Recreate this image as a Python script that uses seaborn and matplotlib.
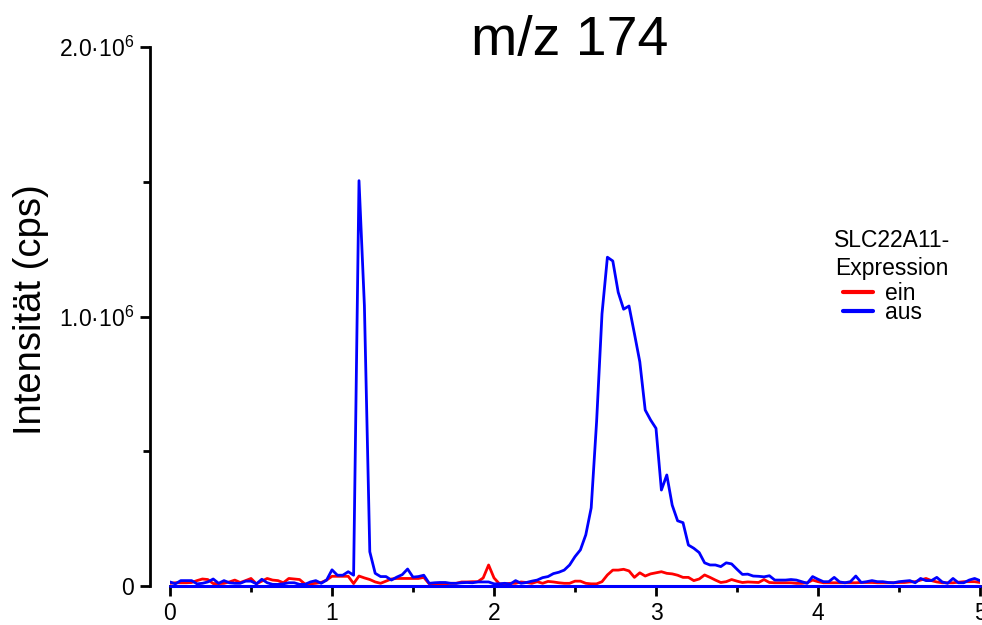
import numpy as np
import pandas as pd
import matplotlib
matplotlib.use("Agg")
import matplotlib.pyplot as plt
import seaborn as sns
from matplotlib.ticker import MultipleLocator

# Retention time grid (min), one scan every 2 s
time_min = np.linspace(0.0, 5.0, 151)

# Ion intensities for m/z 174, in units of 1e4 cps
ein_1e4 = [
    1.0, 1.2, 1.2, 1.2, 1.3, 2.0, 2.6, 2.4, 0.9, 0.9,
    1.0, 1.5, 2.2, 1.3, 2.0, 2.8, 0.8, 1.8, 2.8, 2.2,
    2.0, 1.2, 2.8, 2.6, 2.4, 0.7, 0.8, 1.0, 1.3, 2.2,
    3.6, 3.6, 3.6, 3.6, 0.9, 3.7, 3.0, 2.4, 1.5, 1.0,
    1.8, 2.6, 2.8, 2.8, 2.8, 2.8, 2.8, 3.2, 0.8, 0.8,
    0.8, 0.8, 1.0, 1.0, 1.5, 1.5, 1.6, 1.6, 3.0, 7.8,
    3.0, 0.8, 0.8, 1.0, 1.0, 1.5, 1.3, 1.0, 1.6, 1.0,
    1.7, 1.5, 1.2, 1.0, 1.0, 1.8, 1.8, 1.0, 0.8, 0.8,
    1.6, 4.1, 5.9, 5.9, 6.2, 5.6, 3.2, 4.9, 3.7, 4.5,
    4.9, 5.3, 4.7, 4.5, 4.0, 3.2, 3.2, 2.0, 2.6, 4.1,
    3.2, 2.2, 1.3, 1.6, 2.4, 1.8, 1.3, 1.5, 1.4, 1.3,
    2.4, 1.3, 1.2, 1.2, 1.2, 1.2, 1.0, 1.0, 1.2, 2.2,
    1.6, 1.2, 1.2, 1.2, 1.2, 1.2, 1.2, 1.2, 1.3, 1.3,
    1.3, 1.2, 1.2, 1.2, 1.2, 1.3, 1.3, 1.5, 1.6, 2.2,
    2.8, 2.0, 1.5, 1.2, 1.2, 1.2, 1.4, 1.6, 1.6, 1.6, 1.3,
]
aus_1e4 = [
    1.5, 0.8, 2.0, 2.0, 2.0, 0.8, 1.0, 1.5, 2.6, 1.0,
    2.0, 1.2, 1.0, 1.0, 1.8, 1.8, 0.8, 2.5, 1.2, 0.6,
    0.6, 0.8, 1.2, 1.2, 0.6, 0.6, 1.5, 2.0, 1.0, 2.2,
    6.0, 4.0, 4.0, 5.3, 4.0, 150.4, 104.0, 12.7, 4.7, 3.5,
    3.5, 2.2, 3.3, 4.2, 6.3, 3.3, 3.5, 4.0, 1.0, 1.2,
    1.3, 1.3, 1.0, 1.0, 1.2, 1.3, 1.2, 1.5, 1.5, 1.5,
    0.8, 0.8, 1.0, 0.7, 2.0, 1.0, 1.3, 1.8, 2.2, 3.1,
    3.5, 4.6, 5.1, 5.9, 7.8, 10.9, 13.4, 19.0, 29.0, 61.0,
    101.0, 122.0, 120.6, 109.0, 102.7, 103.9, 93.7, 83.2, 65.3, 61.6,
    58.5, 35.6, 41.2, 30.0, 24.2, 23.5, 15.2, 14.0, 12.4, 8.6,
    7.8, 7.8, 7.2, 8.6, 8.2, 6.2, 4.3, 4.4, 3.7, 3.6,
    3.4, 3.8, 2.2, 2.2, 2.2, 2.4, 2.2, 1.6, 1.0, 3.5,
    2.5, 1.6, 1.6, 3.2, 1.5, 1.2, 1.6, 3.7, 1.3, 1.6,
    2.0, 1.6, 1.6, 1.3, 1.2, 1.6, 1.8, 2.0, 1.2, 2.8,
    2.0, 2.0, 3.2, 1.5, 1.0, 2.8, 1.2, 1.2, 2.2, 2.8, 2.0,
]

series_labels = ["ein", "aus"]
series_colors = ["red", "blue"]
x_ticks = [0, 1, 2, 3, 4, 5]
y_ticks = [0.0, 1.0e6, 2.0e6]
y_tick_labels = ["0", "1.0·10$^{6}$", "2.0·10$^{6}$"]
title_text = "m/z 174"
y_label = "Intensität (cps)"
legend_title_lines = ["SLC22A11-", "Expression"]

sns.set_style("ticks")
plt.rcParams["font.family"] = ["Liberation Sans", "DejaVu Sans"]
plt.rcParams["mathtext.fontset"] = "custom"
plt.rcParams["mathtext.rm"] = "Liberation Sans"
plt.rcParams["mathtext.default"] = "regular"
plt.rcParams["text.color"] = "black"
plt.rcParams["axes.labelcolor"] = "black"
plt.rcParams["axes.titlecolor"] = "black"
plt.rcParams["xtick.color"] = "black"
plt.rcParams["ytick.color"] = "black"

n = len(time_min)
df = pd.DataFrame({
    "Zeit": np.concatenate([time_min, time_min]),
    "Intensität": np.concatenate([np.asarray(ein_1e4), np.asarray(aus_1e4)]) * 1e4,
    "Expression": [series_labels[0]] * n + [series_labels[1]] * n,
})

W, H = 982, 625
fig = plt.figure(figsize=(W / 100, H / 100), dpi=100)
ax = fig.add_axes([170 / W, (H - 586) / H, 810 / W, 539 / H])

sns.lineplot(
    data=df, x="Zeit", y="Intensität", hue="Expression",
    hue_order=series_labels, palette=dict(zip(series_labels, series_colors)),
    estimator=None, linewidth=2.0, ax=ax,
)

# zero line along the time axis
ax.axhline(0, color="blue", lw=2.2, clip_on=False, zorder=3)

ax.set_xlim(0, 5)
ax.set_ylim(0, 2.0e6)
ax.set_xticks(x_ticks)
ax.xaxis.set_minor_locator(MultipleLocator(0.5))
ax.set_yticks(y_ticks, labels=y_tick_labels)
ax.yaxis.set_minor_locator(MultipleLocator(0.5e6))

sns.despine(ax=ax)
# y axis sits 20 px left of the time origin
ax.spines["left"].set_position(("outward", 14.4))
for side in ("left", "bottom"):
    ax.spines[side].set_linewidth(2.0)
    ax.spines[side].set_color("black")

ax.tick_params(which="major", length=7.5, width=2.0, labelsize=16.5, pad=4,
               color="black", labelcolor="black")
ax.tick_params(axis="x", which="minor", length=4.5, width=2.0, color="black")
ax.tick_params(axis="y", which="minor", length=5.0, width=2.0, color="black")

ax.set_xlabel("")
ax.set_ylabel(y_label, fontsize=27.5, color="black")
ax.yaxis.set_label_coords(-0.149, 0.512)

ax.set_title(title_text, fontsize=40, x=0.494, y=0.985, pad=0, color="black")

# legend heading and entries
ax.text(0.891, 0.629, legend_title_lines[0], ha="center", va="baseline",
        fontsize=16.5, color="black", transform=ax.transAxes)
ax.text(0.891, 0.577, legend_title_lines[1], ha="center", va="baseline",
        fontsize=16.5, color="black", transform=ax.transAxes)
handles, labels = ax.get_legend_handles_labels()
leg = ax.legend(handles, labels, loc="upper left", bbox_to_anchor=(0.831, 0.564),
                frameon=False, fontsize=16.5, handlelength=1.3, handletextpad=0.52,
                labelspacing=-0.16, borderpad=0, borderaxespad=0)
for line in leg.get_lines():
    line.set_linewidth(3.0)
for txt in leg.get_texts():
    txt.set_color("black")

fig.savefig("out.png", dpi=100)
